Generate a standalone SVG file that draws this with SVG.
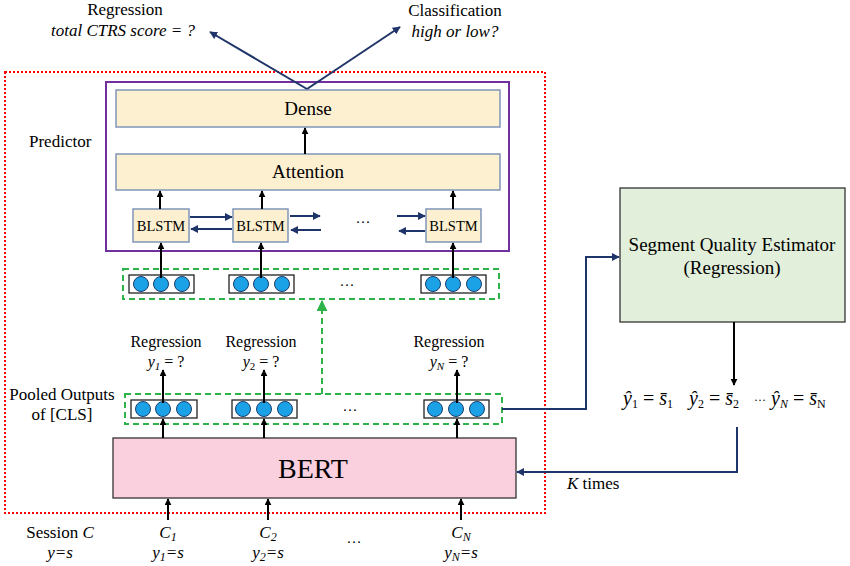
<svg xmlns="http://www.w3.org/2000/svg" width="850" height="566" viewBox="0 0 850 566" font-family="'Liberation Serif', 'DejaVu Serif', serif">
<defs>
<style>
text{font-family:"Liberation Serif","Tinos","DejaVu Serif",serif;fill:#000;}
.c{text-anchor:middle;}
.i{font-style:italic;}
.blk{stroke:#000;stroke-width:2;fill:none;}
.nav{stroke:#1f3468;stroke-width:2;fill:none;}
.yel{fill:#fdf0d0;stroke:#7f95b8;stroke-width:1.5;}
.vec{fill:#fff;stroke:#222;stroke-width:1.3;}
.dot{fill:#1ba1e6;stroke:#1b3d6e;stroke-width:1;}
.gd{fill:none;stroke:#2db34a;stroke-width:2;stroke-dasharray:6,4;}
</style>
<marker id="ab" viewBox="0 0 10 10" refX="9" refY="5" markerWidth="7" markerHeight="7" markerUnits="userSpaceOnUse" orient="auto"><path d="M0,0 L10,5 L0,10 z" fill="#000"/></marker>
<marker id="an" viewBox="0 0 10 10" refX="9" refY="5" markerWidth="8" markerHeight="8" markerUnits="userSpaceOnUse" orient="auto"><path d="M0,0 L10,5 L0,10 z" fill="#1f3468"/></marker>
<marker id="ag" viewBox="0 0 10 10" refX="9" refY="5" markerWidth="11" markerHeight="11" markerUnits="userSpaceOnUse" orient="auto"><path d="M0,0 L10,5 L0,10 z" fill="#2db34a"/></marker>
</defs>
<rect width="850" height="566" fill="#fff"/>

<!-- outer red dotted frame -->
<rect id="frame" x="5" y="72" width="540" height="441" fill="none" stroke="#ff0000" stroke-width="2" stroke-dasharray="2,2"/>

<!-- top output labels -->
<g id="out-reg">
<text class="c" x="125" y="15" font-size="17">Regression</text>
<text class="c i" x="123" y="36" font-size="17">total CTRS score = ?</text>
</g>
<g id="out-cls">
<text class="c" x="455" y="16" font-size="17">Classification</text>
<text class="c i" x="455" y="37" font-size="17">high or low?</text>
</g>

<!-- predictor -->
<g id="predictor">
<rect x="106" y="82" width="403" height="169" fill="none" stroke="#7030a0" stroke-width="2"/>
<text x="29" y="147" font-size="17">Predictor</text>
</g>
<g id="dense">
<rect class="yel" x="116" y="90" width="384" height="37"/>
<text class="c" x="308" y="115" font-size="19">Dense</text>
</g>
<g id="attention">
<rect class="yel" x="116" y="154" width="384" height="36"/>
<text class="c" x="308" y="178" font-size="19">Attention</text>
</g>
<g id="blstm1">
<rect class="yel" x="133" y="209" width="56" height="33"/>
<text class="c" x="161" y="231" font-size="14.5">BLSTM</text>
</g>
<g id="blstm2">
<rect class="yel" x="233" y="209" width="55" height="33"/>
<text class="c" x="260.5" y="231" font-size="14.5">BLSTM</text>
</g>
<g id="blstm-dots"><text class="c" x="363" y="227" font-size="15">···</text></g>
<g id="blstmN">
<rect class="yel" x="426" y="209" width="55" height="33"/>
<text class="c" x="453.5" y="231" font-size="14.5">BLSTM</text>
</g>

<!-- upper vector group -->
<g id="upper-vectors">
<rect class="gd" x="123" y="269" width="376" height="30"/>
<rect class="vec" x="129" y="275" width="65" height="18"/>
<circle class="dot" cx="141" cy="284" r="7.5"/><circle class="dot" cx="161" cy="284" r="7.5"/><circle class="dot" cx="182" cy="284" r="7.5"/>
<rect class="vec" x="229" y="275" width="65" height="18"/>
<circle class="dot" cx="241" cy="284" r="7.5"/><circle class="dot" cx="261" cy="284" r="7.5"/><circle class="dot" cx="282" cy="284" r="7.5"/>
<text class="c" x="347" y="290" font-size="15">···</text>
<rect class="vec" x="421" y="275" width="65" height="18"/>
<circle class="dot" cx="433" cy="284" r="7.5"/><circle class="dot" cx="453" cy="284" r="7.5"/><circle class="dot" cx="474" cy="284" r="7.5"/>
</g>

<!-- pooled outputs -->
<g id="pooled">
<text class="c" x="62" y="400" font-size="17">Pooled Outputs</text>
<text class="c" x="62" y="420" font-size="17">of [CLS]</text>
<rect class="gd" x="125" y="394" width="377" height="30"/>
<rect class="vec" x="131" y="400" width="66" height="18"/>
<circle class="dot" cx="143" cy="409" r="7.5"/><circle class="dot" cx="163" cy="409" r="7.5"/><circle class="dot" cx="184" cy="409" r="7.5"/>
<rect class="vec" x="232" y="400" width="65" height="18"/>
<circle class="dot" cx="243" cy="409" r="7.5"/><circle class="dot" cx="264" cy="409" r="7.5"/><circle class="dot" cx="285" cy="409" r="7.5"/>
<text class="c" x="350" y="415" font-size="15">···</text>
<rect class="vec" x="424" y="400" width="65" height="18"/>
<circle class="dot" cx="435" cy="409" r="7.5"/><circle class="dot" cx="456" cy="409" r="7.5"/><circle class="dot" cx="477" cy="409" r="7.5"/>
</g>

<!-- segment regression labels -->
<g id="seg-reg1">
<text class="c" x="166" y="347" font-size="16">Regression</text>
<text class="c" x="166" y="367" font-size="16"><tspan class="i">y</tspan><tspan class="i" font-size="11" dy="3">1</tspan><tspan dy="-3"> = ?</tspan></text>
</g>
<g id="seg-reg2">
<text class="c" x="261" y="347" font-size="16">Regression</text>
<text class="c" x="261" y="367" font-size="16"><tspan class="i">y</tspan><tspan font-size="11" dy="3">2</tspan><tspan dy="-3"> = ?</tspan></text>
</g>
<g id="seg-regN">
<text class="c" x="449" y="347" font-size="16">Regression</text>
<text class="c" x="449" y="367" font-size="16"><tspan class="i">y</tspan><tspan class="i" font-size="11" dy="3">N</tspan><tspan dy="-3"> = ?</tspan></text>
</g>

<!-- BERT -->
<g id="bert">
<rect x="113" y="438" width="403" height="60" fill="#fbd0de" stroke="#333" stroke-width="1.3"/>
<text class="c" x="313" y="478" font-size="28">BERT</text>
</g>

<!-- inputs -->
<g id="session">
<text class="c" x="60" y="538" font-size="17">Session <tspan class="i">C</tspan></text>
<text class="c i" x="60" y="558" font-size="17">y=s</text>
</g>
<g id="in1">
<text class="c i" x="168" y="538" font-size="17">C<tspan font-size="12" dy="3">1</tspan></text>
<text class="c i" x="168" y="558" font-size="17">y<tspan font-size="12" dy="3">1</tspan><tspan dy="-3">=s</tspan></text>
</g>
<g id="in2">
<text class="c i" x="268" y="538" font-size="17">C<tspan font-size="12" dy="3">2</tspan></text>
<text class="c i" x="268" y="558" font-size="17">y<tspan font-size="12" dy="3">2</tspan><tspan dy="-3">=s</tspan></text>
</g>
<g id="in-dots"><text class="c" x="354" y="543" font-size="15">…</text></g>
<g id="inN">
<text class="c i" x="461" y="538" font-size="17">C<tspan font-size="12" dy="3">N</tspan></text>
<text class="c i" x="461" y="558" font-size="17">y<tspan font-size="12" dy="3">N</tspan><tspan dy="-3">=s</tspan></text>
</g>

<!-- Segment Quality Estimator -->
<g id="sqe">
<rect x="620" y="188" width="225" height="134" fill="#e2efda" stroke="#333" stroke-width="1.3"/>
<text class="c" x="732" y="251" font-size="19">Segment Quality Estimator</text>
<text class="c" x="732" y="274" font-size="19">(Regression)</text>
</g>
<g id="estimates">
<text x="623" y="405" font-size="20"><tspan class="i">ŷ</tspan><tspan font-size="12" dy="3">1</tspan><tspan dy="-3"> = </tspan><tspan class="i">s̄</tspan><tspan font-size="12" dy="3">1</tspan></text>
<text x="689" y="405" font-size="20"><tspan class="i">ŷ</tspan><tspan font-size="12" dy="3">2</tspan><tspan dy="-3"> = </tspan><tspan class="i">s̄</tspan><tspan font-size="12" dy="3">2</tspan></text>
<text x="754" y="404" font-size="12">···</text>
<text x="771" y="405" font-size="20"><tspan class="i">ŷ</tspan><tspan class="i" font-size="12" dy="3">N</tspan><tspan dy="-3"> = </tspan><tspan class="i">s̄</tspan><tspan font-size="12" dy="3">N</tspan></text>
</g>
<g id="ktimes"><text x="567" y="489" font-size="17"><tspan class="i">K</tspan> times</text></g>

<!-- connectors -->
<g id="connectors">
<line class="nav" x1="307" y1="89" x2="210" y2="32" marker-end="url(#an)"/>
<line class="nav" x1="307" y1="89" x2="400" y2="27" marker-end="url(#an)"/>
<line class="blk" x1="305" y1="154" x2="305" y2="128" marker-end="url(#ab)"/>
<line class="blk" x1="160" y1="209" x2="160" y2="191" marker-end="url(#ab)"/>
<line class="blk" x1="262" y1="209" x2="262" y2="191" marker-end="url(#ab)"/>
<line class="blk" x1="453" y1="209" x2="453" y2="191" marker-end="url(#ab)"/>
<line class="nav" x1="190" y1="217" x2="232" y2="217" marker-end="url(#an)"/>
<line class="nav" x1="232" y1="229" x2="191" y2="229" marker-end="url(#an)"/>
<line class="nav" x1="290" y1="216" x2="320" y2="216" marker-end="url(#an)"/>
<line class="nav" x1="321" y1="230" x2="291" y2="230" marker-end="url(#an)"/>
<line class="nav" x1="397" y1="216" x2="425" y2="216" marker-end="url(#an)"/>
<line class="nav" x1="425" y1="231" x2="399" y2="231" marker-end="url(#an)"/>
<line class="blk" x1="161" y1="278" x2="161" y2="243" marker-end="url(#ab)"/>
<line class="blk" x1="261" y1="278" x2="261" y2="243" marker-end="url(#ab)"/>
<line class="blk" x1="453" y1="278" x2="453" y2="243" marker-end="url(#ab)"/>
<polyline class="gd" points="322,394 322,301" marker-end="url(#ag)"/>
<line class="blk" x1="163" y1="403" x2="163" y2="370" marker-end="url(#ab)"/>
<line class="blk" x1="264" y1="403" x2="264" y2="370" marker-end="url(#ab)"/>
<line class="blk" x1="457" y1="403" x2="457" y2="370" marker-end="url(#ab)"/>
<line class="blk" x1="163" y1="438" x2="163" y2="419" marker-end="url(#ab)"/>
<line class="blk" x1="264" y1="438" x2="264" y2="419" marker-end="url(#ab)"/>
<line class="blk" x1="457" y1="438" x2="457" y2="419" marker-end="url(#ab)"/>
<line class="blk" x1="168" y1="520" x2="168" y2="499" marker-end="url(#ab)"/>
<line class="blk" x1="268" y1="520" x2="268" y2="499" marker-end="url(#ab)"/>
<line class="blk" x1="461" y1="520" x2="461" y2="499" marker-end="url(#ab)"/>
<polyline class="nav" points="502,409 586,409 586,257 619,257" marker-end="url(#an)"/>
<line class="blk" x1="734" y1="322" x2="734" y2="385" marker-end="url(#ab)"/>
<polyline class="nav" points="737,427 737,472 517,472" marker-end="url(#an)"/>
</g>
</svg>
